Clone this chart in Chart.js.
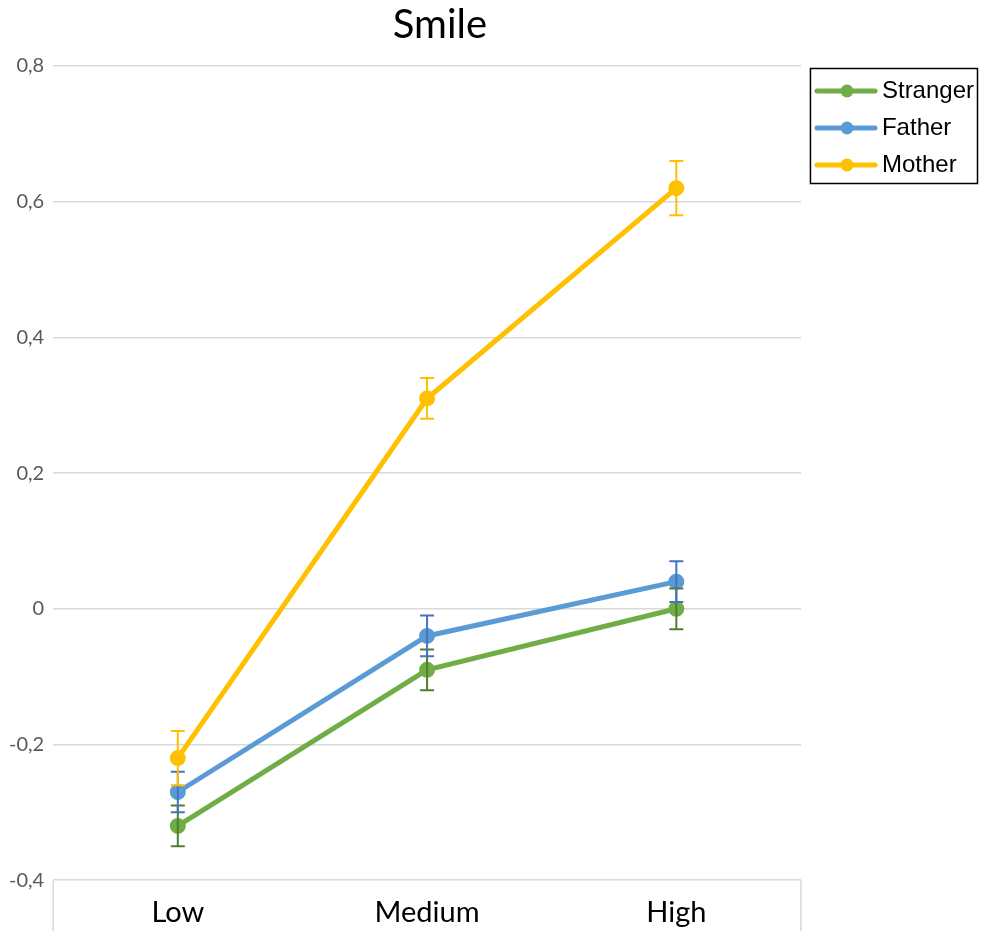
<!DOCTYPE html>
<html>
<head>
<meta charset="utf-8">
<script src="https://cdn.jsdelivr.net/npm/chart.js@4/dist/chart.umd.min.js"></script>
<style>
  html, body { margin: 0; padding: 0; background: #fff; }
  #wrap { width: 989px; height: 931px; position: relative; }
</style>
</head>
<body>
<div id="wrap"><canvas id="smileChart"></canvas></div>
<script>
// categories + series
const categories = ['Low', 'Medium', 'High'];
const seriesNames = ['Stranger', 'Father', 'Mother'];

const strangerValues = [-0.32, -0.09, 0.00];
const fatherValues   = [-0.27, -0.04, 0.04];
const motherValues   = [-0.22, 0.31, 0.62];

// error bar half-widths
const strangerErr = [0.03, 0.03, 0.03];
const fatherErr   = [0.03, 0.03, 0.03];
const motherErr   = [0.04, 0.03, 0.04];

// y axis range
const yMin = -0.4;
const yMax = 0.8;
const yStep = 0.2;

const lineColors = ['#70ad47', '#5b9bd5', '#ffc000'];
const errColors  = ['#4f7f2f', '#4472c4', '#ffc000'];

// small "line + dot" image used as legend marker
function legendMarker(color) {
    const c = document.createElement('canvas');
    c.width = 72; c.height = 16;
    const g = c.getContext('2d');
    g.strokeStyle = color;
    g.lineWidth = 5;
    g.lineCap = 'round';
    g.beginPath(); g.moveTo(11, 8); g.lineTo(69, 8); g.stroke();
    g.fillStyle = color;
    g.beginPath(); g.arc(41, 8, 6.5, 0, Math.PI * 2); g.fill();
    return c;
}

// error bars drawn on top of the lines
const errorBarPlugin = {
    id: 'errorBars',
    afterDatasetsDraw(chart) {
        const ctx = chart.ctx;
        const y = chart.scales.y;
        const errs = [strangerErr, fatherErr, motherErr];
        chart.data.datasets.forEach((ds, i) => {
            const meta = chart.getDatasetMeta(i);
            ctx.save();
            ctx.strokeStyle = errColors[i];
            ctx.lineWidth = 2;
            meta.data.forEach((pt, j) => {
                const top = y.getPixelForValue(ds.data[j] + errs[i][j]);
                const bot = y.getPixelForValue(ds.data[j] - errs[i][j]);
                ctx.beginPath();
                ctx.moveTo(pt.x, top); ctx.lineTo(pt.x, bot);
                ctx.moveTo(pt.x - 7, top); ctx.lineTo(pt.x + 7, top);
                ctx.moveTo(pt.x - 7, bot); ctx.lineTo(pt.x + 7, bot);
                ctx.stroke();
            });
            ctx.restore();
        });
    }
};

// title over the plot, legend frame, and the two edge lines under the x axis
const framePlugin = {
    id: 'frameAndTitle',
    afterDraw(chart) {
        const ctx = chart.ctx;
        const area = chart.chartArea;
        ctx.save();
        ctx.fillStyle = '#000';
        ctx.font = '40px Lato';
        ctx.textAlign = 'center';
        ctx.textBaseline = 'alphabetic';
        ctx.fillText('Smile', 440, 38);

        ctx.strokeStyle = '#d9d9d9';
        ctx.lineWidth = 1.5;
        ctx.beginPath();
        ctx.moveTo(area.left, area.bottom); ctx.lineTo(area.left, chart.height);
        ctx.moveTo(area.right, area.bottom); ctx.lineTo(area.right, chart.height);
        ctx.stroke();

        const boxes = chart.legend.legendHitBoxes;
        if (boxes && boxes.length) {
            const last = boxes[boxes.length - 1];
            const left = Math.min(...boxes.map(b => b.left)) - 4;
            const right = Math.max(...boxes.map(b => b.left + b.width)) + 3;
            const top = boxes[0].top - 11;
            const bottom = last.top + last.height + 6;
            ctx.strokeStyle = '#000';
            ctx.lineWidth = 1.5;
            ctx.strokeRect(left + 0.5, top + 0.5, right - left, bottom - top);
        }
        ctx.restore();
    }
};

const datasets = [strangerValues, fatherValues, motherValues].map((vals, i) => ({
    label: seriesNames[i],
    data: vals,
    borderColor: lineColors[i],
    backgroundColor: lineColors[i],
    pointBackgroundColor: lineColors[i],
    pointBorderColor: lineColors[i],
    borderWidth: 5,
    pointRadius: 5.5,
    tension: 0,
    fill: false
}));

new Chart(document.getElementById('smileChart'), {
    type: 'line',
    data: { labels: categories, datasets: datasets },
    plugins: [errorBarPlugin, framePlugin],
    options: {
        responsive: true,
        maintainAspectRatio: false,
        animation: false,
        layout: { padding: { top: 66, left: 0, right: 5, bottom: -14 } },
        plugins: {
            title: { display: false },
            tooltip: { enabled: false },
            legend: {
                position: 'right',
                align: 'start',
                labels: {
                    usePointStyle: true,
                    pointStyleWidth: 56,
                    padding: 13,
                    color: '#000',
                    font: { family: 'Liberation Sans', size: 24 },
                    generateLabels: (chart) => chart.data.datasets.map((ds, i) => ({
                        text: ds.label,
                        pointStyle: legendMarker(lineColors[i]),
                        fillStyle: lineColors[i],
                        strokeStyle: lineColors[i],
                        lineWidth: 0,
                        datasetIndex: i,
                        hidden: false
                    }))
                }
            }
        },
        scales: {
            x: {
                offset: true,
                border: { display: false },
                grid: { display: false, drawTicks: false },
                ticks: {
                    color: '#000',
                    padding: 15,
                    font: { family: 'Lato', size: 29 }
                }
            },
            y: {
                min: yMin,
                max: yMax,
                border: { display: false },
                grid: { color: '#d9d9d9', lineWidth: 1.5, drawTicks: false },
                ticks: {
                    stepSize: yStep,
                    padding: 9,
                    color: '#595959',
                    font: { family: 'Lato', size: 20 },
                    callback: (v) => {
                        const r = Math.round(v * 10) / 10;
                        return r === 0 ? '0' : String(r).replace('.', ',');
                    }
                }
            }
        }
    }
});
</script>
</body>
</html>
